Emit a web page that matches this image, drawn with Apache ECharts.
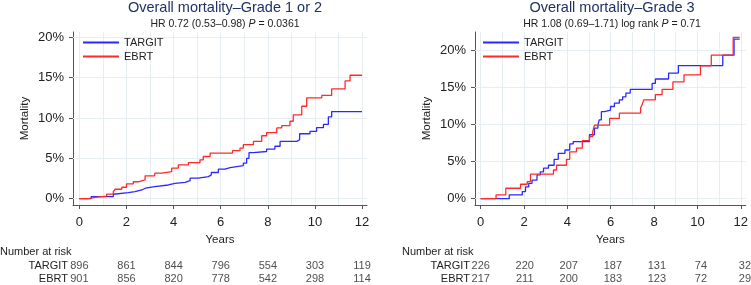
<!DOCTYPE html>
<html>
<head>
<meta charset="utf-8">
<script src="https://cdn.jsdelivr.net/npm/echarts@6/dist/echarts.min.js"></script>
<style>
html,body{margin:0;padding:0;background:#fff;}
#chart{width:751px;height:285px;}
</style>
</head>
<body>
<div id="chart"></div>
<script>
// 随访年份 / 风险人数
var riskYears = [0, 2, 4, 6, 8, 10, 12];
var riskTargitG12 = [896, 861, 844, 796, 554, 303, 119];
var riskEbrtG12 = [901, 856, 820, 778, 542, 298, 114];
var riskTargitG3 = [226, 220, 207, 187, 131, 74, 32];
var riskEbrtG3 = [217, 211, 200, 183, 123, 72, 29];

// 累计死亡率 (%) [年, 值]
var targitG12 = [[0,0],[0.5,0.25],[1.44,0.55],[1.5,0.75],[2.08,0.87],[2.36,1.08],[2.65,1.3],[2.8,1.49],[3.2,1.7],[3.78,1.9],[4.06,2.03],[4.49,2.24],[4.7,2.54],[5.05,2.74],[5.48,2.95],[5.6,3.25],[5.9,3.66],[6.18,3.86],[6.4,4.1],[6.96,4.4],[7.1,5.0],[7.2,5.7],[7.39,5.85],[7.95,6.15],[8.3,6.5],[8.52,7.1],[9.23,7.3],[9.35,8.05],[9.79,8.35],[10.07,8.8],[10.36,9.2],[10.57,10.15],[10.71,10.8],[12,10.8]];
var ebrtG12 = [[0,0],[0.38,0.17],[0.67,0.33],[1.16,0.58],[1.44,0.87],[1.52,1.17],[1.8,1.42],[2.0,1.83],[2.29,2.1],[2.5,2.33],[2.79,2.83],[3.2,3.16],[3.5,3.36],[3.92,3.78],[4.2,4.2],[4.63,4.48],[5.12,4.82],[5.26,5.23],[5.55,5.65],[6.5,5.95],[6.82,6.27],[6.96,6.69],[7.39,7.1],[7.74,7.8],[7.95,8.2],[8.38,8.77],[8.59,9.05],[8.94,9.6],[9.08,10.4],[9.44,11.46],[9.65,12.5],[10.29,12.8],[10.71,13.6],[11.28,14.6],[11.49,15.3],[12,15.3]];
var targitG3 = [[0,0],[1.32,0.5],[1.92,0.95],[2.07,1.6],[2.22,2.07],[2.37,2.5],[2.6,3.2],[2.75,3.6],[2.9,4.1],[3.13,4.5],[3.39,5.3],[3.58,6.1],[3.89,6.55],[4.11,7.36],[4.27,7.67],[5.02,8.6],[5.25,9.5],[5.41,9.9],[5.47,10.6],[5.57,11.7],[5.72,11.9],[5.99,12.4],[6.17,12.85],[6.4,13.3],[6.55,13.7],[6.7,14.2],[6.9,14.7],[7.91,15.5],[8.06,16.1],[8.67,16.9],[9.12,17.9],[11.17,19.3],[11.69,21.45],[11.95,21.45]];
var ebrtG3 = [[0,0],[0.71,0.5],[1.16,1.4],[1.84,1.94],[2.15,2.3],[2.3,3.3],[3.36,3.86],[3.5,4.5],[3.96,5.3],[4.11,6.3],[4.42,6.8],[4.69,7.8],[5.02,8.35],[5.17,9.0],[5.25,9.9],[5.95,10.8],[6.4,11.5],[7.38,12.2],[7.46,12.75],[7.53,13.3],[8.06,14.0],[8.37,14.7],[8.87,15.7],[9.38,16.65],[10.14,17.86],[10.64,19.3],[11.65,21.7],[11.95,21.7]];

var yTicks = [0, 5, 10, 15, 20];
var xGridYears = [0,1,2,3,4,5,6,7,8,9,10,11,12];

var FONT = '"Liberation Sans", Arial, sans-serif';
var TXT = '#222';
var AXC = '#555';
var BLUE = '#2a2aff';
var RED = '#ff2a2a';

var dom = document.getElementById('chart');
var myChart = echarts.init(dom);

//主图坐标轴
var mainX = function(gi, min, max){
	return {
		type:'value', gridIndex:gi, min:min, max:max,
		name:'Years', nameLocation:'middle', nameGap:29,
		nameTextStyle:{fontSize:11.5, color:TXT, fontFamily:FONT},
		axisLine:{show:true, onZero:false, lineStyle:{color:AXC, width:1}},
		axisTick:{show:true, length:4, customValues:riskYears, lineStyle:{color:AXC}},
		axisLabel:{customValues:riskYears, fontSize:13, color:TXT, margin:11, fontFamily:FONT},
		splitLine:{show:false}
	};
};
var mainY = function(gi, min, max){
	return {
		type:'value', gridIndex:gi, min:min, max:max,
		name:'Mortality', nameLocation:'middle', nameGap:42,
		nameTextStyle:{fontSize:11.5, color:TXT, fontFamily:FONT},
		axisLine:{show:true, onZero:false, lineStyle:{color:AXC, width:1}},
		axisTick:{show:true, length:4, customValues:yTicks, lineStyle:{color:AXC}},
		axisLabel:{customValues:yTicks, fontSize:13, color:TXT, margin:9, fontFamily:FONT, formatter:'{value}%'},
		splitLine:{show:false}
	};
};
//风险表坐标轴
var riskX = function(gi, min, max){
	return {type:'value', gridIndex:gi, min:min, max:max, show:false};
};
var riskY = function(gi){
	return {
		type:'category', gridIndex:gi, data:['EBRT','TARGIT'],
		axisLine:{show:false}, axisTick:{show:false}, splitLine:{show:false},
		axisLabel:{interval:0, fontSize:11, color:TXT, margin:5, fontFamily:FONT}
	};
};

//网格线 (放在曲线下面)
var gridLines = function(){
	var d = [];
	for(var i=0;i<xGridYears.length;i++){ d.push({xAxis:xGridYears[i]}); }
	for(var j=0;j<yTicks.length;j++){ d.push({yAxis:yTicks[j]}); }
	return {silent:true, z:1, symbol:'none', label:{show:false},
		lineStyle:{color:'#e7eef2', width:1, type:'solid'}, data:d};
};

var kmLine = function(name, data, color, idx){
	return {
		name:name, type:'line', step:'end', data:data, xAxisIndex:idx, yAxisIndex:idx,
		symbol:'none', z:3, lineStyle:{color:color, width:1.3}, itemStyle:{color:color}
	};
};

var riskSeries = function(vals, row, idx){
	var d = [];
	for(var i=0;i<riskYears.length;i++){ d.push([riskYears[i], row, vals[i]]); }
	return {
		type:'scatter', xAxisIndex:idx, yAxisIndex:idx, data:d, symbolSize:1, silent:true,
		itemStyle:{color:'transparent'},
		label:{show:true, position:'inside', fontSize:11, color:TXT, fontFamily:FONT,
			formatter:function(p){ return p.value[2]; }}
	};
};

var subRich = {i:{fontStyle:'italic', fontSize:10.5, color:TXT, fontFamily:FONT}};

var legendOpt = function(left){
	return {orient:'vertical', left:left, top:37, padding:0, itemWidth:36, itemHeight:12, itemGap:3,
		itemStyle:{opacity:0},
		data:['TARGIT','EBRT'], textStyle:{fontSize:11, color:TXT, fontFamily:FONT}};
};

option = {
	backgroundColor:'#fff',
	animation:false,
	textStyle:{fontFamily:FONT},
	title:[
		{text:'Overall mortality–Grade 1 or 2', left:225, top:0, padding:0, textAlign:'center',
			textStyle:{fontSize:14.5, fontWeight:'normal', color:'#1e3264', lineHeight:16, fontFamily:FONT}},
		{text:'HR 0.72 (0.53–0.98) {i|P} = 0.0361', left:225, top:18, padding:0, textAlign:'center',
			textStyle:{fontSize:10.5, fontWeight:'normal', color:TXT, lineHeight:12, fontFamily:FONT, rich:subRich}},
		{text:'Overall mortality–Grade 3', left:612, top:0, padding:0, textAlign:'center',
			textStyle:{fontSize:14.5, fontWeight:'normal', color:'#1e3264', lineHeight:16, fontFamily:FONT}},
		{text:'HR 1.08 (0.69–1.71) log rank {i|P} = 0.71', left:612, top:18, padding:0, textAlign:'center',
			textStyle:{fontSize:10.5, fontWeight:'normal', color:TXT, lineHeight:12, fontFamily:FONT, rich:subRich}},
		{text:'Number at risk', left:0, top:246, padding:0,
			textStyle:{fontSize:11, fontWeight:'normal', color:TXT, lineHeight:12, fontFamily:FONT}},
		{text:'Number at risk', left:402, top:246, padding:0,
			textStyle:{fontSize:11, fontWeight:'normal', color:TXT, lineHeight:12, fontFamily:FONT}}
	],
	legend:[legendOpt(82), legendOpt(482)],
	grid:[
		{left:73, right:384, top:32, bottom:80},
		{left:475, right:1, top:32, bottom:80},
		{left:73, right:384, top:260, height:28},
		{left:475, right:1, top:260, height:28}
	],
	xAxis:[mainX(0,-0.27,12.21), mainX(1,-0.26,12.23), riskX(2,-0.27,12.21), riskX(3,-0.26,12.23)],
	yAxis:[mainY(0,-0.78,20.66), mainY(1,-0.85,22.42), riskY(2), riskY(3)],
	series:[
		{type:'line', xAxisIndex:0, yAxisIndex:0, data:[], z:1, markLine:gridLines()},
		{type:'line', xAxisIndex:1, yAxisIndex:1, data:[], z:1, markLine:gridLines()},
		kmLine('TARGIT', targitG12, BLUE, 0),
		kmLine('EBRT', ebrtG12, RED, 0),
		kmLine('TARGIT', targitG3, BLUE, 1),
		kmLine('EBRT', ebrtG3, RED, 1),
		riskSeries(riskTargitG12, 'TARGIT', 2),
		riskSeries(riskEbrtG12, 'EBRT', 2),
		riskSeries(riskTargitG3, 'TARGIT', 3),
		riskSeries(riskEbrtG3, 'EBRT', 3)
	]
};
if(option && typeof option === "object") {
	myChart.setOption(option, true);
}
</script>
</body>
</html>
